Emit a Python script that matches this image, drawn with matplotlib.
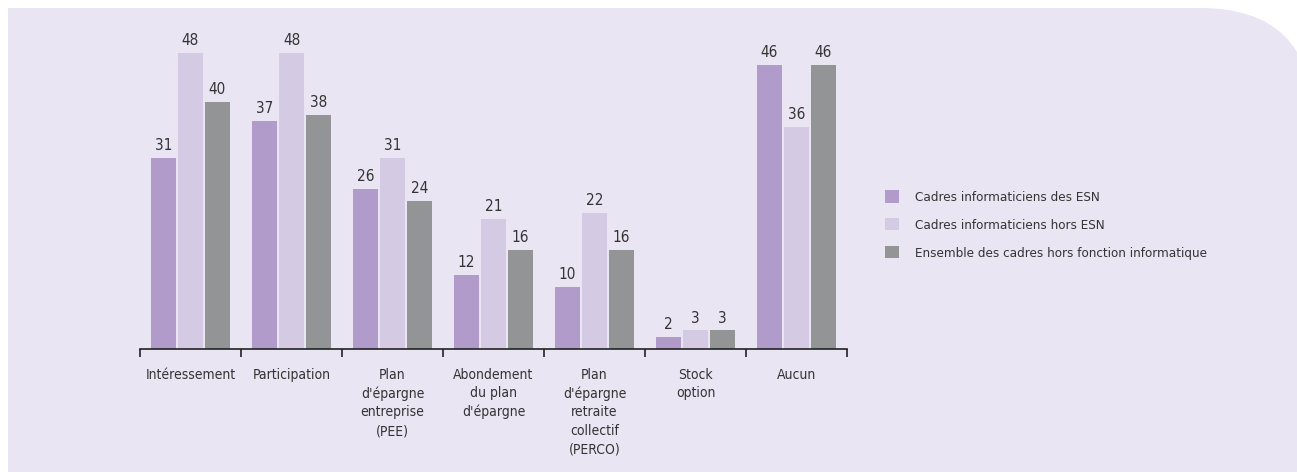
import numpy as np
import matplotlib
matplotlib.use("Agg")
import matplotlib.pyplot as plt
from matplotlib.patches import Rectangle, FancyBboxPatch

plt.rcParams["font.family"] = ["DejaVu Sans"]
plt.rcParams["font.stretch"] = "condensed"

# Data
categories = [
    "Intéressement",
    "Participation",
    "Plan\nd'épargne\nentreprise\n(PEE)",
    "Abondement\ndu plan\nd'épargne",
    "Plan\nd'épargne\nretraite\ncollectif\n(PERCO)",
    "Stock\noption",
    "Aucun",
]
series_names = [
    "Cadres informaticiens des ESN",
    "Cadres informaticiens hors ESN",
    "Ensemble des cadres hors fonction informatique",
]
esn = [31, 37, 26, 12, 10, 2, 46]
hors_esn = [48, 48, 31, 21, 22, 3, 36]
ensemble = [40, 38, 24, 16, 16, 3, 46]

colors = ["#b19bca", "#d5cae4", "#939496"]
bg = "#e9e5f2"
text_color = "#333333"

fig = plt.figure(figsize=(12.97, 4.72), dpi=100)
fig.patch.set_facecolor("white")

# background panel with rounded top-right corner
fig.patches.append(Rectangle((0.08, -1), 11.5, 4.64 + 1, transform=fig.dpi_scale_trans,
                             facecolor=bg, linewidth=0, zorder=-10))
fig.patches.append(FancyBboxPatch((9.0, -3), 13.13 - 9.0, 4.64 + 3,
                                  boxstyle="round,pad=0,rounding_size=1.13",
                                  transform=fig.dpi_scale_trans,
                                  facecolor=bg, linewidth=0, zorder=-10))

ax = fig.add_axes([140 / 1297, (472 - 349) / 472, 707 / 1297, 308.5 / 472])
ax.set_facecolor("none")

x = np.arange(len(categories))
width = 0.25
offsets = [-0.267, 0, 0.267]

for vals, off, col, name in zip([esn, hors_esn, ensemble], offsets, colors, series_names):
    bars = ax.bar(x + off, vals, width, color=col, label=name, zorder=2)
    for b, v in zip(bars, vals):
        ax.text(b.get_x() + b.get_width() / 2, v + 0.8, str(v), ha="center", va="bottom",
                fontsize=11, color=text_color)

ax.set_xlim(-0.5, len(categories) - 0.5)
ax.set_ylim(0, 50)

for s in ["top", "right", "left"]:
    ax.spines[s].set_visible(False)
ax.spines["bottom"].set_color("#222222")
ax.spines["bottom"].set_linewidth(1.2)
ax.set_yticks([])

# ticks at group boundaries
ax.set_xticks(np.arange(-0.5, len(categories), 1.0))
ax.set_xticklabels([])
ax.tick_params(axis="x", direction="out", length=6, width=1.2, color="#222222")

for xi, lab in zip(x, categories):
    ax.text(xi, -0.06, lab, transform=ax.get_xaxis_transform(), ha="center", va="top",
            fontsize=10, color=text_color, linespacing=1.42)

leg = fig.legend(loc="upper left", bbox_to_anchor=(880 / 1297, 1 - 185 / 472),
                 frameon=False, fontsize=9.6, handlelength=1.05, handleheight=1.05,
                 handletextpad=1.2, labelspacing=1.05, borderaxespad=0)
for t in leg.get_texts():
    t.set_color(text_color)

fig.savefig("out.png", dpi=100, facecolor=fig.get_facecolor())
